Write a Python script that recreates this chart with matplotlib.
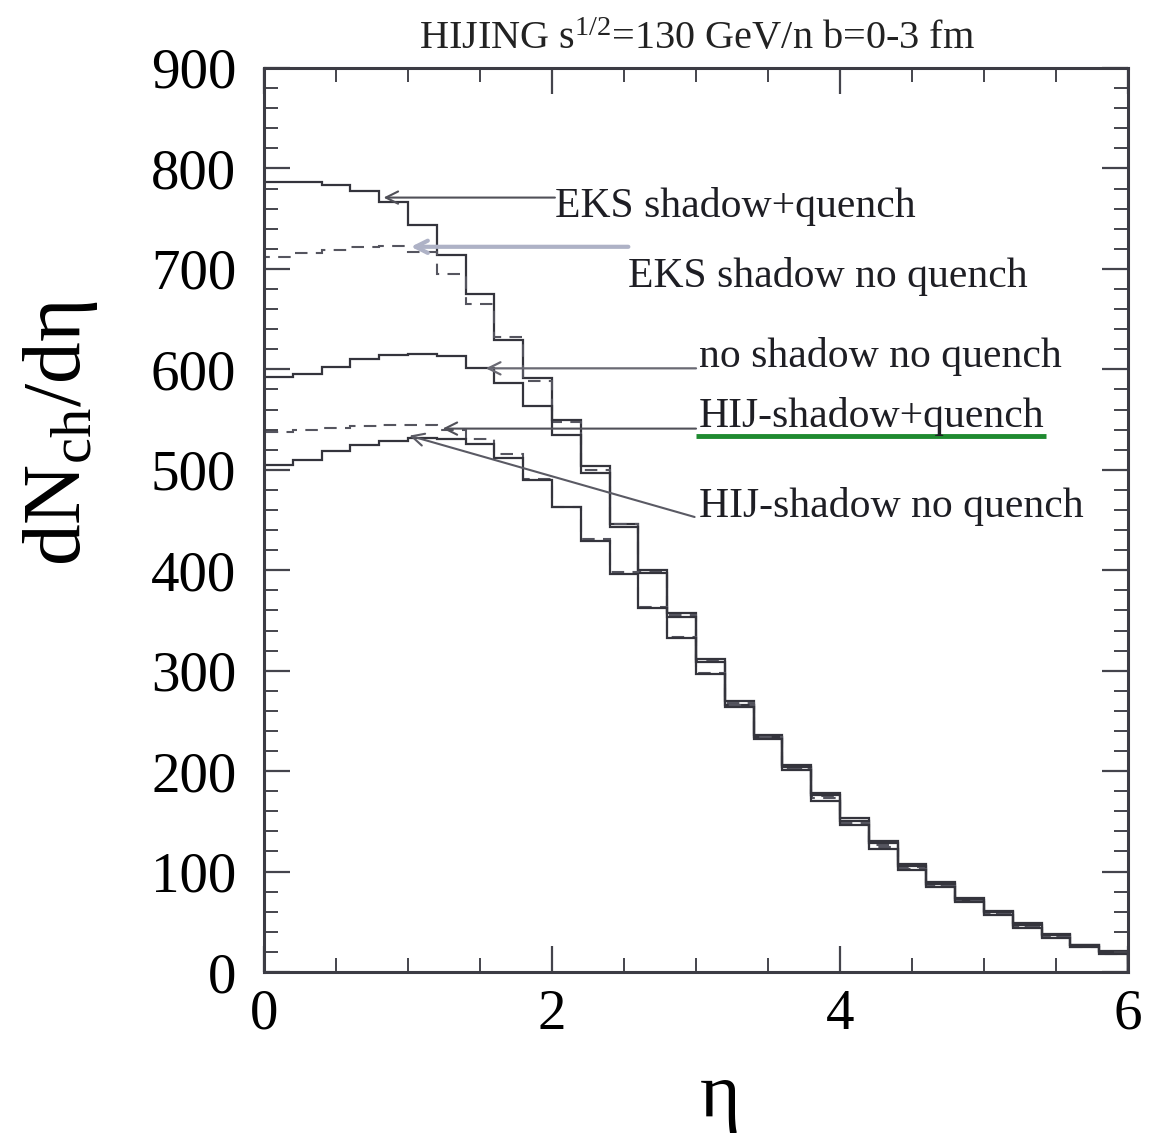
import numpy as np
import matplotlib
matplotlib.use("Agg")
import matplotlib.pyplot as plt
from matplotlib.ticker import MultipleLocator

plt.rcParams['font.family'] = ['Liberation Serif', 'DejaVu Serif']
plt.rcParams['mathtext.fontset'] = 'custom'
plt.rcParams['mathtext.rm'] = 'Liberation Serif'
plt.rcParams['mathtext.it'] = 'Liberation Serif:italic'

# eta bins, width 0.2 from 0 to 6
eta_edges = np.round(np.arange(0, 6.01, 0.2), 2)

eks_shadow_quench = [787, 787, 784, 778, 767, 744, 714, 675, 629, 591,
                     550, 504, 446, 400, 357, 312, 270, 236, 206, 178,
                     153, 130, 108, 90, 74, 61, 49, 38, 27, 21]
eks_shadow_noquench = [712, 716, 719, 722, 723, 717, 695, 665, 632, 588,
                       548, 500, 446, 398, 355, 310, 268, 233, 203, 175,
                       150, 126, 105, 87, 72, 59, 46, 36, 26, 19]
noshadow_noquench = [592, 595, 602, 610, 614, 615, 613, 601, 586, 564,
                     535, 497, 443, 397, 353, 309, 266, 234, 204, 176,
                     150, 128, 106, 88, 72, 60, 47, 37, 27, 20]
hij_shadow_quench = [538, 540, 542, 544, 545, 545, 540, 531, 516, 491,
                     463, 431, 398, 363, 334, 298, 266, 234, 202, 173,
                     148, 124, 103, 86, 71, 58, 45, 35, 25, 18]
hij_shadow_noquench = [505, 510, 519, 525, 529, 532, 531, 526, 512, 490,
                       463, 429, 396, 362, 333, 297, 264, 232, 201, 170,
                       146, 122, 102, 85, 70, 57, 44, 34, 25, 18]

curve_labels = ['EKS shadow+quench', 'EKS shadow no quench', 'no shadow no quench',
                'HIJ-shadow+quench', 'HIJ-shadow no quench']
# text anchor (x, baseline), arrow tail and head in data units
label_pos = [(2.02, 752), (2.53, 682), (3.02, 602), (3.02, 543), (3.02, 453)]
arrow_tail = [(2.02, 771), (2.53, 722), (3.0, 601), (3.0, 541), (2.99, 453)]
arrow_head = [(0.83, 771), (1.02, 722), (1.54, 601), (1.24, 541), (1.01, 534)]

fig = plt.figure(figsize=(11.54, 11.39), dpi=100)
ax = fig.add_axes([0.2288, 0.1466, 0.7487, 0.7937])

dark = '#34343c'
ax.stairs(eks_shadow_quench, eta_edges, color=dark, lw=1.6)
ax.stairs(eks_shadow_noquench, eta_edges, color='#55555f', lw=1.5, linestyle=(0, (6, 4)))
ax.stairs(noshadow_noquench, eta_edges, color=dark, lw=1.6)
ax.stairs(hij_shadow_quench, eta_edges, color='#55555f', lw=1.5, linestyle=(0, (6, 4)))
ax.stairs(hij_shadow_noquench, eta_edges, color=dark, lw=1.6)

arrow_colors = ['#505058', '#aeb2c6', '#6a6a74', '#505058', '#5a5a64']
arrow_lw = [1.5, 3.0, 1.6, 1.5, 1.5]
for lab, (tx, ty), tail, head, c, w in zip(curve_labels, label_pos, arrow_tail,
                                            arrow_head, arrow_colors, arrow_lw):
    ax.annotate('', xy=head, xytext=tail,
                arrowprops=dict(arrowstyle='->', color=c, lw=w,
                                shrinkA=0, shrinkB=0, mutation_scale=22))
    ax.text(tx, ty, lab, fontsize=30, color='#1e1e24', va='baseline', ha='left')

# green underline under the HIJ-shadow+quench label
ax.plot([3.0, 5.43], [534, 534], color='#1f8a30', lw=3.5, solid_capstyle='butt')

ax.set_xlim(0, 6)
ax.set_ylim(0, 900)
ax.xaxis.set_major_locator(MultipleLocator(2))
ax.xaxis.set_minor_locator(MultipleLocator(0.5))
ax.yaxis.set_major_locator(MultipleLocator(100))
ax.yaxis.set_minor_locator(MultipleLocator(20))
ax.tick_params(which='both', direction='in', top=True, right=True, color='#44444c')
ax.tick_params(which='major', length=19, width=1.6, labelsize=41)
ax.tick_params(which='minor', length=10, width=1.4)
ax.tick_params(axis='y', pad=20)
ax.tick_params(axis='x', pad=12)
for sp in ax.spines.values():
    sp.set_color('#3c3c44')
    sp.set_linewidth(2.2)

fig.text(0.052, 0.620, 'dN$_{\\rm ch}$/dη', rotation=90, fontsize=60,
         ha='center', va='center')
fig.text(0.624, 0.020, 'η', fontsize=56, ha='center', va='baseline')
fig.text(0.604, 0.957, 'HIJING s$^{1/2}$=130 GeV/n b=0-3 fm', fontsize=29,
         ha='center', va='baseline', color='#222')

fig.savefig('out.png', dpi=100)
